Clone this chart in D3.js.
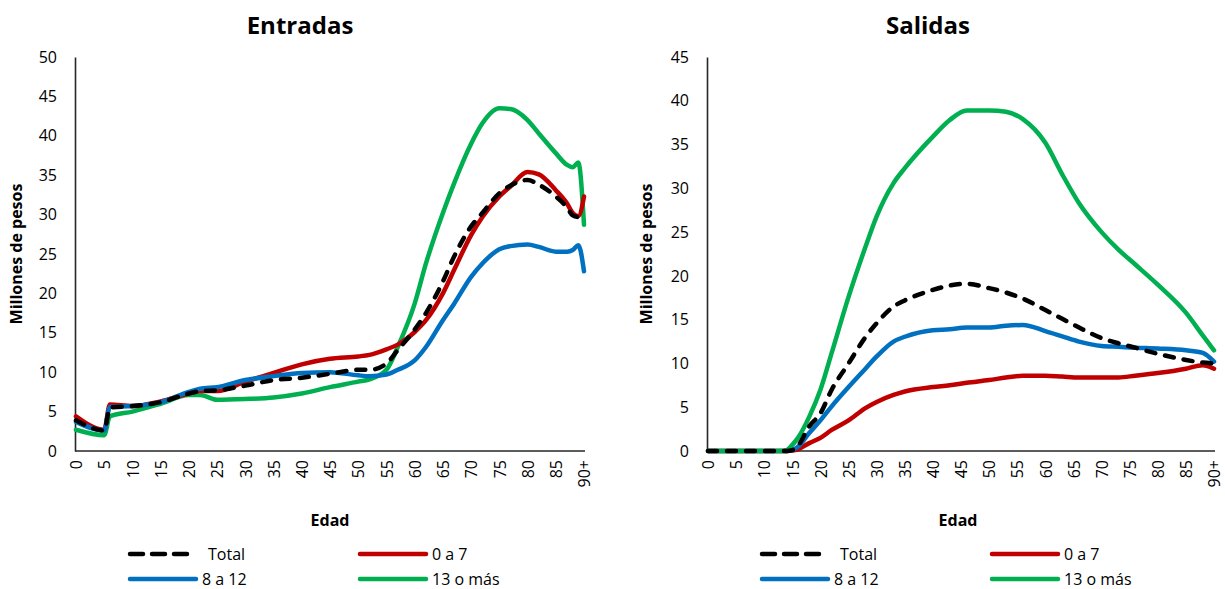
<!DOCTYPE html>
<html><head><meta charset="utf-8">
<script src="https://cdn.jsdelivr.net/npm/d3@7"></script>
<style>
body{margin:0;background:#fff;}
text{font-family:"Open Sans","Noto Sans",sans-serif;fill:#000;}
</style></head>
<body><svg id="c" width="1225" height="589"></svg>
<script>
// ---- Data ----
const xTickAges = [0,5,10,15,20,25,30,35,40,45,50,55,60,65,70,75,80,85,90];
const xTickLabels = ["0","5","10","15","20","25","30","35","40","45","50","55","60","65","70","75","80","85","90+"];
const seriesNames = ["Total","0 a 7","8 a 12","13 o más"];

// Entradas
const entAges  = [0,5,6,10,15,20,22,25,30,35,40,45,50,52,55,57,60,62,65,67,70,72,75,77,80,82,85,87,88,89,90];
const entTotal = [3.9,2.6,5.5,5.7,6.2,7.3,7.6,7.7,8.3,9.0,9.3,9.8,10.3,10.3,11.1,12.8,15.4,17.5,21.5,24.7,28.5,30.2,32.7,33.7,34.4,33.8,32.3,30.9,29.9,29.7,30.4];
const entA     = [4.4,2.7,5.9,5.7,6.3,7.3,7.6,7.6,8.8,9.9,11.0,11.7,12.0,12.2,12.9,13.5,15.1,16.6,20.0,23.0,27.4,29.7,32.3,33.6,35.4,35.1,33.1,31.4,30.2,29.8,32.3];
const entB     = [3.7,2.6,5.6,5.7,6.2,7.5,7.9,8.1,9.0,9.5,9.9,10.0,9.6,9.5,9.7,10.3,11.5,13.2,16.6,18.7,22.1,23.8,25.6,26.0,26.2,25.9,25.3,25.3,25.5,26.1,22.8];
const entC     = [2.7,2.0,4.4,5.0,6.0,7.1,7.1,6.5,6.6,6.8,7.3,8.1,8.8,9.1,10.3,13.2,18.7,23.8,30.2,34.0,39.0,41.6,43.5,43.4,42.0,40.3,37.8,36.3,36.0,36.6,28.7];
const entYTicks = [0,5,10,15,20,25,30,35,40,45,50];

// Salidas
const salAges  = [0,13,14,15,16,18,20,22,25,28,30,33,35,40,43,46,50,53,56,60,63,66,70,73,76,80,85,88,90];
const salTotal = [0,0,0,0.1,0.6,2.8,4.3,7.0,10.0,13.0,14.6,16.5,17.2,18.4,18.9,19.1,18.6,18.1,17.4,16.1,15.1,14.1,12.9,12.3,11.8,11.1,10.4,10.1,10.0];
const salA     = [0,0,0,0.05,0.2,0.9,1.5,2.4,3.5,4.9,5.6,6.4,6.8,7.3,7.5,7.8,8.1,8.4,8.6,8.6,8.5,8.4,8.4,8.4,8.6,8.9,9.4,9.8,9.4];
const salB     = [0,0,0,0.1,0.5,2.05,3.5,5.1,7.3,9.4,10.8,12.5,13.05,13.8,13.9,14.1,14.1,14.3,14.4,13.7,13.1,12.5,12.0,11.9,11.8,11.7,11.5,11.2,10.2];
const salC     = [0,0,0.1,0.7,1.5,3.9,7.0,11.2,17.6,23.3,26.8,30.6,32.3,35.9,37.8,38.9,38.9,38.75,37.9,35.2,31.6,28.3,25.0,23.0,21.3,19.0,15.8,13.2,11.5];
const salYTicks = [0,5,10,15,20,25,30,35,40,45];

const colors = ["#000000","#C00000","#0070C0","#00B050"];
const dashes = ["9,10",null,null,null];

const svg = d3.select("#c");

function drawChart(cfg){
  const g = svg.append("g");
  const x = d3.scaleLinear().domain([0,90]).range([cfg.x0+1, cfg.x1-1]);
  const y = d3.scaleLinear().domain([0, cfg.ymax]).range([cfg.yb, cfg.yt]);

  // title
  g.append("text").attr("x",cfg.tx).attr("y",34)
    .attr("text-anchor","middle").style("font-size","24px").style("font-weight","bold").text(cfg.title);

  // y axis
  const ya = g.append("g").attr("transform",`translate(${cfg.x0},0)`)
    .call(d3.axisLeft(y).tickValues(cfg.yticks).tickSize(0).tickPadding(18).tickFormat(d3.format("d")));
  ya.select(".domain").attr("stroke","#262626").attr("stroke-width",1.6);
  ya.selectAll("text").style("font-size","16px").style("font-family",'"Open Sans","Noto Sans",sans-serif').attr("fill","#000");

  // x axis
  const xa = g.append("g").attr("transform",`translate(0,${cfg.yb})`)
    .call(d3.axisBottom(x).tickValues(xTickAges).tickSize(0).tickFormat((d,i)=>xTickLabels[i]));
  xa.select(".domain").attr("stroke","#262626").attr("stroke-width",1.6)
    .attr("d",`M${cfg.x0},0H${cfg.x1}`);
  xa.selectAll("text").attr("transform","rotate(-90)").attr("x",-9).attr("y",0).attr("dy","0.36em")
    .style("text-anchor","end").style("font-size","16px").style("font-family",'"Open Sans","Noto Sans",sans-serif').attr("fill","#000");

  // axis titles
  g.append("text").attr("transform",`translate(${cfg.ytx},${254}) rotate(-90)`)
    .attr("text-anchor","middle").style("font-size","16px").style("font-weight","bold").text("Millones de pesos");
  g.append("text").attr("x",cfg.etx).attr("y",526)
    .attr("text-anchor","middle").style("font-size","16px").style("font-weight","bold").text("Edad");

  // lines
  const line = d3.line().x(d=>x(d[0])).y(d=>y(d[1])).curve(d3.curveMonotoneX);
  cfg.drawOrder.forEach(i=>{
    const pts = cfg.ages.map((a,k)=>[a,cfg.series[i][k]]);
    g.append("path").datum(pts).attr("d",line).attr("fill","none")
      .attr("stroke",colors[i]).attr("stroke-width",4.5)
      .attr("stroke-linecap","round").attr("stroke-linejoin","round")
      .attr("stroke-dasharray",dashes[i]);
  });

  // legend
  const lg = [[0,cfg.l1,554],[1,cfg.l2,554],[2,cfg.l1,579],[3,cfg.l2,579]];
  lg.forEach(([i,lx,ly])=>{
    g.append("line").attr("x1",lx).attr("x2",lx+66).attr("y1",ly).attr("y2",ly)
      .attr("stroke",colors[i]).attr("stroke-width",4.5).attr("stroke-linecap","round")
      .attr("stroke-dasharray", i===0 ? "13,9" : null);
    g.append("text").attr("x", i===0 ? lx+78 : lx+72).attr("y",ly).attr("dy","0.36em")
      .style("font-size","16px").text(seriesNames[i]);
  });
}

drawChart({title:"Entradas", tx:300, x0:75, x1:585, yt:57, yb:451, ymax:50, yticks:entYTicks,
  ages:entAges, series:[entTotal,entA,entB,entC], ytx:22, etx:330, l1:130, l2:360,
  drawOrder:[3,1,2,0]});
drawChart({title:"Salidas", tx:928, x0:707, x1:1215, yt:57, yb:451, ymax:45, yticks:salYTicks,
  ages:salAges, series:[salTotal,salA,salB,salC], ytx:652, etx:958, l1:762, l2:992,
  drawOrder:[1,2,3,0]});
</script></body></html>
